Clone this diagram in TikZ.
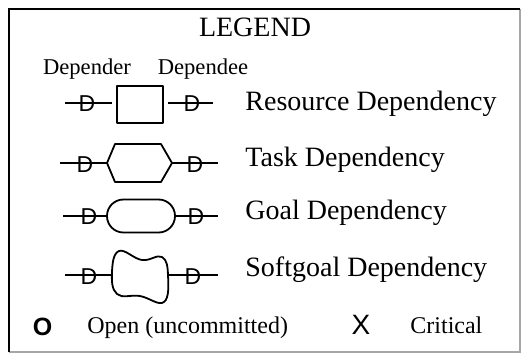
\documentclass[tikz,border=0pt]{standalone}
\usepackage{fontspec}
\setmainfont{Liberation Serif}
\setsansfont{Liberation Sans}
\begin{document}
\begin{tikzpicture}[x=0.5pt,y=-0.5pt,
  shp/.style={draw, line width=0.9pt, line join=round},
  ln/.style={line width=0.9pt},
  dee/.style={font=\sffamily\fontsize{11.5}{11.5}\selectfont, inner sep=0pt},
  lbl/.style={anchor=base west, inner sep=0pt, font=\fontsize{14}{16}\selectfont},
  small/.style={anchor=base, inner sep=0pt, font=\fontsize{11.3}{13}\selectfont},
  foot/.style={anchor=base west, inner sep=0pt, font=\fontsize{12}{14}\selectfont}]
\useasboundingbox (0,0) rectangle (523,355);
\fill[white] (0,0) rectangle (523,355);
% frame
\draw[black!35, line width=0.7pt] (9,352) -- (520,352) -- (520,9);
\draw[black, line width=1.3pt] (9,352) -- (9,9) -- (520,9);
% headings
\node[anchor=base, inner sep=0pt, font=\fontsize{14}{16}\selectfont] (legend) at (255,36) {LEGEND};
\node[small] (depender) at (87,74) {Depender};
\node[small] (dependee) at (203,74) {Dependee};
% Resource row
\coordinate (ra) at (65,103); \coordinate (rb) at (112,103);
\coordinate (rc) at (168,103); \coordinate (rd) at (213,103);
\node[shp, minimum width=23pt, minimum height=18.5pt, inner sep=0pt] (res) at (140,104.5) {};
\draw[ln] (ra) -- (rb);
\draw[ln] (rc) -- (rd);
\node[dee] (rD1) at (87,103.5) {D};
\node[dee] (rD2) at (192,103.5) {D};
\node[lbl] (rlab) at (245,110) {Resource Dependency};
% Task row
\coordinate (ta) at (60,163); \coordinate (tb) at (107,163);
\coordinate (tc) at (172,163); \coordinate (td) at (218,163);
\draw[shp] (tb) -- (115,144) -- (161,144) -- (tc) -- (161,182) -- (115,182) -- cycle;
\draw[ln] (ta) -- (tb);
\draw[ln] (tc) -- (td);
\node[dee] (tD1) at (85,165) {D};
\node[dee] (tD2) at (195,165) {D};
\node[lbl] (tlab) at (245,166) {Task Dependency};
% Goal row
\coordinate (ga) at (63,216); \coordinate (gb) at (107,216);
\coordinate (gc) at (175,216); \coordinate (gd) at (218,216);
\draw[shp, rounded corners=8.2pt] (107,199.5) rectangle (175,232.5);
\draw[ln] (ga) -- (gb);
\draw[ln] (gc) -- (gd);
\node[dee] (gD1) at (89,216.5) {D};
\node[dee] (gD2) at (196,216.5) {D};
\node[lbl] (glab) at (245,219) {Goal Dependency};
% Softgoal row
\coordinate (sa) at (65,275); \coordinate (sb) at (112,275);
\coordinate (sc) at (168,275); \coordinate (sd) at (218,275);
\draw[shp] plot[smooth cycle, tension=0.7] coordinates {
  (119,251) (142,260) (162,257) (168,275) (164,302) (140,296) (117,294) (112,272)};
\draw[ln] (sa) -- (sb);
\draw[ln] (sc) -- (sd);
\node[dee] (sD1) at (89,277) {D};
\node[dee] (sD2) at (193,277) {D};
\node[lbl] (slab) at (245,276) {Softgoal Dependency};
% bottom
\node[inner sep=0pt, font=\sffamily\bfseries\fontsize{12.5}{13}\selectfont] (open) at (42.5,327) {O};
\node[foot] (openlab) at (87,333) {Open (uncommitted)};
\node[inner sep=0pt, font=\sffamily\fontsize{14}{15}\selectfont] (crit) at (361,325) {X};
\node[foot] (critlab) at (410,333) {Critical};
\end{tikzpicture}
\end{document}
